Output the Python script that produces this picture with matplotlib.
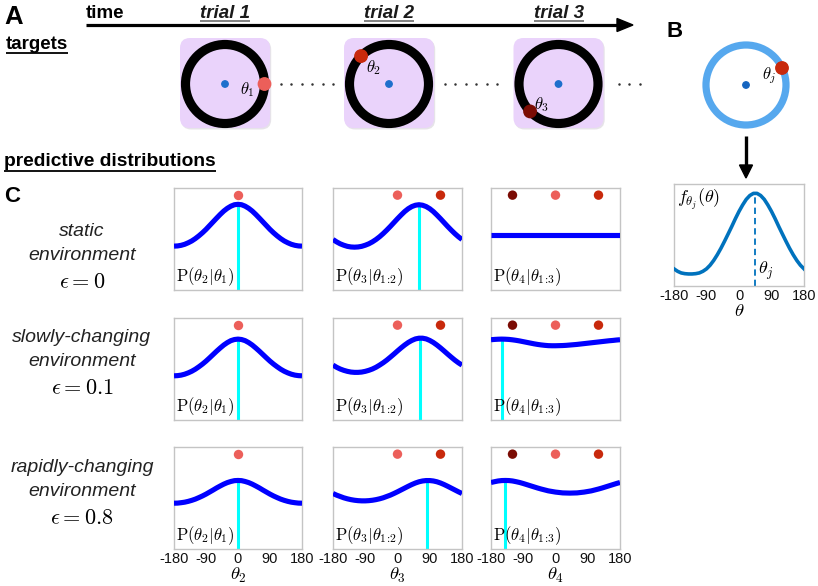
import math
import matplotlib
matplotlib.use('Agg')
import matplotlib.pyplot as plt
from matplotlib.patches import FancyBboxPatch, Circle, Polygon

plt.rcParams['mathtext.fontset'] = 'cm'
plt.rcParams['font.family'] = ['Liberation Sans', 'DejaVu Sans']

# ---------------- data ----------------
theta_grid = list(range(-180, 181, 10))

static_t2 = [.430, .432, .438, .448, .463, .481, .504, .531, .561, .594, .631, .668, .705, .741, .774, .801, .822, .836, .840,
             .836, .822, .801, .774, .741, .705, .668, .631, .594, .561, .531, .504, .481, .463, .448, .438, .432, .430]
static_t3 = [.495, .472, .453, .439, .428, .422, .420, .422, .428, .439, .453, .472, .495, .522, .553, .587, .623, .661, .699,
             .735, .769, .797, .818, .831, .836, .831, .818, .797, .769, .735, .699, .661, .623, .587, .553, .522, .495]
static_t4 = [.540, .540, .540, .540, .540, .540, .540, .540, .540, .540, .540, .540, .540, .540, .540, .540, .540, .540, .540,
             .540, .540, .540, .540, .540, .540, .540, .540, .540, .540, .540, .540, .540, .540, .540, .540, .540, .540]

slow_t2 = [.433, .435, .440, .449, .462, .478, .498, .522, .548, .577, .609, .642, .675, .706, .735, .759, .778, .789, .793,
           .789, .778, .759, .735, .706, .675, .642, .609, .577, .548, .522, .498, .478, .462, .449, .440, .435, .433]
slow_t3 = [.538, .517, .500, .487, .477, .470, .467, .467, .470, .477, .487, .500, .517, .538, .561, .587, .616, .646, .677,
           .707, .735, .760, .780, .795, .802, .802, .795, .780, .760, .735, .707, .677, .646, .616, .587, .561, .538]
slow_t4 = [.787, .790, .792, .793, .792, .790, .786, .781, .775, .768, .761, .754, .747, .741, .736, .732, .729, .728, .728,
           .729, .730, .732, .735, .738, .741, .745, .749, .753, .757, .761, .765, .769, .773, .777, .780, .784, .787]

rapid_t2 = [.449, .450, .454, .459, .467, .477, .489, .504, .520, .538, .558, .578, .599, .618, .636, .651, .662, .670, .672,
            .670, .662, .651, .636, .618, .599, .578, .558, .538, .520, .504, .489, .477, .467, .459, .454, .450, .449]
rapid_t3 = [.544, .528, .515, .502, .492, .484, .478, .474, .472, .472, .474, .478, .484, .492, .502, .515, .528, .544, .561,
            .579, .597, .615, .632, .647, .659, .667, .671, .671, .667, .659, .647, .632, .615, .597, .579, .561, .544]
rapid_t4 = [.652, .660, .667, .671, .672, .671, .667, .660, .652, .642, .631, .620, .609, .598, .588, .579, .570, .564, .558,
            .554, .550, .549, .548, .549, .550, .554, .558, .564, .570, .579, .588, .598, .609, .620, .631, .642, .652]

tuning_f = [.168, .144, .128, .121, .118, .118, .121, .128, .144, .168, .204, .251, .307, .370, .439, .511, .584, .660, .731,
            .794, .849, .887, .908, .908, .887, .849, .794, .731, .660, .584, .511, .439, .370, .307, .251, .204, .168]
tuning_peak = 45

pred_curves = [[static_t2, static_t3, static_t4],
               [slow_t2, slow_t3, slow_t4],
               [rapid_t2, rapid_t3, rapid_t4]]
cyan_pos = [[0, 60, None], [0, 64, -150], [0, 83, -141]]

target_thetas = [0, 120, -120]          # theta1, theta2, theta3 (panel C dots)
target_colors = ['#EC5F5A', '#C8290C', '#7B0C04']
target_angles_A = [0, 135, -136]        # positions drawn on the rings in panel A

row_labels = [['static', 'environment', r'$\epsilon = 0$'],
              ['slowly-changing', 'environment', r'$\epsilon = 0.1$'],
              ['rapidly-changing', 'environment', r'$\epsilon = 0.8$']]
col_labels = [r'$\mathrm{P}(\theta_2|\theta_1)$', r'$\mathrm{P}(\theta_3|\theta_{1\!:\!2})$',
              r'$\mathrm{P}(\theta_4|\theta_{1\!:\!3})$']
x_names = [r'$\theta_2$', r'$\theta_3$', r'$\theta_4$']
xticks = [-180, -90, 0, 90, 180]
trial_names = ['trial 1', 'trial 2', 'trial 3']
theta_names_A = [r'$\theta_1$', r'$\theta_2$', r'$\theta_3$']

# ---------------- figure ----------------
W, H = 818, 586
fig = plt.figure(figsize=(W / 100, H / 100), dpi=100)


def rect(x0, y0, x1, y1):
    return [x0 / W, 1 - y1 / H, (x1 - x0) / W, (y1 - y0) / H]


ov = fig.add_axes([0, 0, 1, 1])
ov.set_xlim(0, W)
ov.set_ylim(H, 0)
ov.axis('off')
ov.patch.set_alpha(0)

BLUE = '#0000FF'
CYAN = '#00FFFF'
SPINE = '#C4C4C4'

texts_to_underline = []


def utext(x, y, s, uy, color='black', ucolor='black', **kw):
    t = ov.text(x, y, s, va='baseline', color=color, **kw)
    texts_to_underline.append((t, uy, ucolor))
    return t


# ---- Panel A ----
ov.text(4, 24, 'A', fontsize=18.5, fontweight='bold', va='baseline')
ov.text(86, 18, 'time', fontsize=13.5, fontweight='bold', va='baseline')
ov.plot([86, 619], [25, 25], color='black', lw=2.3, solid_capstyle='butt')
ov.add_patch(Polygon([[617, 18.5], [633, 25], [617, 31.5]], closed=True, color='black'))

trial_cx = [225, 389, 558.5]
for i, cx in enumerate(trial_cx):
    utext(cx, 17.5, trial_names[i], 21, color='#1a1a1a', ucolor='#777777',
          fontsize=13.5, fontweight='bold', fontstyle='italic', ha='center')
    ov.add_patch(FancyBboxPatch((cx - 45 + 10 + 1.2, 38 + 10 + 1.5), 70, 70,
                                boxstyle='round,pad=10', fc='#b9b0c0', ec='none', alpha=0.35))
    ov.add_patch(FancyBboxPatch((cx - 45 + 10, 38 + 10), 70, 70,
                                boxstyle='round,pad=10', fc='#EAD3FB', ec='none'))
    ov.add_patch(Circle((cx, 84), 39.5, fill=False, ec='black', lw=6.6))
    ov.add_patch(Circle((cx, 84), 3.2, color='#1E6FCC'))
    a = math.radians(target_angles_A[i])
    ov.add_patch(Circle((cx + 39.5 * math.cos(a), 84 - 39.5 * math.sin(a)), 6.2,
                        color=target_colors[i], zorder=5))

ov.text(247, 90, theta_names_A[0], fontsize=12, ha='center', va='center')
ov.text(374, 68, theta_names_A[1], fontsize=12, ha='center', va='center')
ov.text(542, 105, theta_names_A[2], fontsize=12, ha='center', va='center')

for xs in ([281 + 10.4 * k for k in range(6)], [445 + 10.4 * k for k in range(6)], [619 + 10.4 * k for k in range(3)]):
    ov.plot(xs, [84] * len(xs), 'o', ms=1.8, color='#333333', mec='none')

utext(6, 49, 'targets', 52.5, fontsize=13.5, fontweight='bold')
utext(4, 166, 'predictive distributions', 170.5, fontsize=13.8, fontweight='bold')

# ---- Panel B ----
ov.text(666, 37, 'B', fontsize=16, fontweight='bold', va='baseline')
ov.add_patch(Circle((746, 85), 40, fill=False, ec='#56A8EE', lw=5.2))
ov.add_patch(Circle((746, 85), 3.2, color='#1565C0'))
ov.add_patch(Circle((782, 68), 6.2, color='#C8290C', zorder=5))
ov.text(769, 76, r'$\theta_j$', fontsize=12, ha='center', va='center')
ov.plot([746, 746], [136, 167], color='black', lw=2.4, solid_capstyle='butt')
ov.add_patch(Polygon([[739.5, 165], [752.5, 165], [746, 178]], closed=True, color='black'))

axB = fig.add_axes(rect(674, 184, 804, 286))
axB.plot(theta_grid, tuning_f, color='#0072BD', lw=2.6, zorder=3)
axB.plot([tuning_peak, tuning_peak], [0, max(tuning_f)], color='#0072BD', lw=1.3,
         ls=(0, (3.5, 2.2)), zorder=2)
axB.set_xlim(-180, 180)
axB.set_ylim(0, 1)
axB.set_yticks([])
axB.set_xticks(xticks)
axB.set_xticklabels([str(v) for v in xticks])
axB.tick_params(axis='x', length=0, pad=2, labelsize=10.5, labelcolor='#111111')
axB.set_xlabel(r'$\theta$', fontsize=13.5, labelpad=0)
axB.text(0.02, 0.97, r'$f_{\theta_j}(\theta)$', transform=axB.transAxes, fontsize=13, ha='left', va='top')
axB.text(52, 0.04, r'$\theta_j$', fontsize=13, ha='left', va='bottom')
for s in axB.spines.values():
    s.set_color(SPINE)
    s.set_linewidth(1.0)

# ---- Panel C ----
ov.text(4, 202, 'C', fontsize=16, fontweight='bold', va='baseline')
col_x = [(174, 302), (333, 462), (491, 620)]
row_y = [(188, 290), (318, 420), (447, 549)]
label_y = [[232, 256, 283], [337, 362, 388], [467, 492, 519]]

for r in range(3):
    for k, s in enumerate(row_labels[r]):
        if s.startswith('$'):
            ov.text(82, label_y[r][k], s, fontsize=16, ha='center', va='center')
        else:
            ov.text(82, label_y[r][k], s, fontsize=14, fontstyle='italic', ha='center', va='center',
                    color='#222222')
    for c in range(3):
        ax = fig.add_axes(rect(col_x[c][0], row_y[r][0], col_x[c][1], row_y[r][1]))
        vals = pred_curves[r][c]
        ax.plot(theta_grid, vals, color=BLUE, lw=3.7, zorder=3, solid_capstyle='butt')
        if cyan_pos[r][c] is not None:
            ax.plot([cyan_pos[r][c]] * 2, [0, max(vals)], color=CYAN, lw=2.2, zorder=2)
        n = c + 1
        ax.scatter(target_thetas[:n], [0.93] * n, s=46, c=target_colors[:n], zorder=4,
                   clip_on=False, linewidths=0)
        ax.text(0.012, 0.015, col_labels[c], transform=ax.transAxes, fontsize=12,
                ha='left', va='bottom', zorder=5)
        ax.set_xlim(-180, 180)
        ax.set_ylim(0, 1)
        ax.set_yticks([])
        ax.set_xticks(xticks)
        if r == 2:
            ax.set_xticklabels([str(v) for v in xticks])
            ax.tick_params(axis='x', length=0, pad=2, labelsize=10.5, labelcolor='#111111')
            ax.set_xlabel(x_names[c], fontsize=13.5, labelpad=0)
        else:
            ax.set_xticklabels([])
            ax.tick_params(axis='x', length=0)
        for s in ax.spines.values():
            s.set_color(SPINE)
            s.set_linewidth(1.0)

# underline texts
fig.canvas.draw()
inv = ov.transData.inverted()
for t, uy, uc in texts_to_underline:
    bb = t.get_window_extent()
    (x0, _), (x1, _) = inv.transform([[bb.x0, bb.y0], [bb.x1, bb.y1]])
    ov.plot([x0, x1], [uy, uy], color=uc, lw=1.3, solid_capstyle='butt')

fig.savefig('out.png', dpi=100)
